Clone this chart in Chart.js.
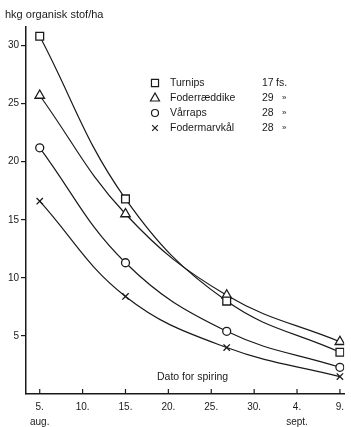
<html>
<head>
<title>Dato for spiring</title>
<style>
  body { margin: 0; background: #fff; }
  #wrap { position: relative; width: 351px; height: 427px; font-family: "Liberation Sans", Arial, sans-serif; color: #1a1a1a; }
  #wrap canvas { position: absolute; left: 0; top: 0; }
  .txt { position: absolute; white-space: nowrap; line-height: 1; }
</style>
</head>
<body>
<div id="wrap">
  <canvas id="chart" width="351" height="427"></canvas>
  <div class="txt" style="left:5px; top:9px; font-size:11px;">hkg organisk stof/ha</div>
  <div id="legend"></div>
  <div class="txt" style="left:157px; top:371px; font-size:10.5px;">Dato for spiring</div>
</div>
<script src="https://cdn.jsdelivr.net/npm/chart.js@4.4.0/dist/chart.umd.min.js"></script>
<script>
    // days counted in august (sept. 9 = aug. 40)
    var days = [5, 15, 26.8, 40];

    var turnips = [30.8, 16.8, 8.0, 3.6];
    var foderraeddike = [25.7, 15.5, 8.5, 4.5];
    var vaarraps = [21.2, 11.3, 5.4, 2.3];
    var fodermarvkaal = [16.6, 8.4, 4.0, 1.5];

    var names = ["Turnips", "Foderræddike", "Vårraps", "Fodermarvkål"];
    var counts = ["17", "29", "28", "28"];
    var units = ["fs.", "»", "»", "»"];
    var styles = ["rect", "triangle", "circle", "crossRot"];
    var radii = [5.5, 5.5, 4, 4.5];

    var xTicks = [5, 10, 15, 20, 25, 30, 35, 40];
    var yTicks = [5, 10, 15, 20, 25, 30];

    var ink = "#1a1a1a";
    var series = [turnips, foderraeddike, vaarraps, fodermarvkaal];

    // legend as html text
    var legendHtml = "";
    for (var i = 0; i < names.length; i++) {
        var rowTop = 77 + i * 15;
        legendHtml += '<div class="txt" style="left:170px; top:' + rowTop + 'px; font-size:10.5px;">' + names[i] + '</div>';
        legendHtml += '<div class="txt" style="left:262px; top:' + rowTop + 'px; font-size:10.5px;">' + counts[i] + '</div>';
        legendHtml += '<div class="txt" style="left:' + (i == 0 ? 276 : 282) + 'px; top:' + (i == 0 ? rowTop : rowTop + 2) + 'px; font-size:' + (i == 0 ? 10.5 : 8) + 'px;">' + units[i] + '</div>';
    }
    document.getElementById("legend").innerHTML = legendHtml;

    var datasets = [];
    for (var s = 0; s < series.length; s++) {
        var pts = [];
        for (var k = 0; k < days.length; k++) {
            pts.push({x: days[k], y: series[s][k]});
        }
        datasets.push({
            label: names[s],
            data: pts,
            borderColor: ink,
            borderWidth: 1.2,
            pointStyle: styles[s],
            pointRadius: radii[s],
            pointBorderWidth: 1.3,
            pointBorderColor: ink,
            pointBackgroundColor: "#fff",
            tension: 0.4,
            fill: false
        });
    }

    function drawMarker(ctx, style, r, x, y) {
        ctx.beginPath();
        if (style == "rect") {
            var h = r * Math.SQRT1_2;
            ctx.rect(x - h, y - h, 2 * h, 2 * h);
        } else if (style == "triangle") {
            ctx.moveTo(x, y - r);
            ctx.lineTo(x - r * 0.9, y + r * 0.6);
            ctx.lineTo(x + r * 0.9, y + r * 0.6);
            ctx.closePath();
        } else if (style == "circle") {
            ctx.arc(x, y, r, 0, Math.PI * 2);
        } else {
            var c = r * Math.SQRT1_2;
            ctx.moveTo(x - c, y - c); ctx.lineTo(x + c, y + c);
            ctx.moveTo(x + c, y - c); ctx.lineTo(x - c, y + c);
        }
        ctx.stroke();
    }

    var extras = {
        id: "extras",
        afterDraw: function(chart) {
            var ctx = chart.ctx;
            var xs = chart.scales.x;
            ctx.save();
            ctx.strokeStyle = ink;
            ctx.lineWidth = 1.2;
            // tick marks pointing into the plot
            xs.ticks.forEach(function(t) {
                var px = xs.getPixelForValue(t.value);
                ctx.beginPath();
                ctx.moveTo(px, chart.chartArea.bottom);
                ctx.lineTo(px, chart.chartArea.bottom - 5);
                ctx.stroke();
            });
            // legend markers
            for (var i = 0; i < styles.length; i++) {
                drawMarker(ctx, styles[i], radii[i] - 0.5, 155, 83 + i * 15);
            }
            ctx.restore();
        }
    };

    new Chart(document.getElementById("chart").getContext("2d"), {
        type: "line",
        data: {datasets: datasets},
        plugins: [extras],
        options: {
            responsive: false,
            animation: false,
            layout: {padding: {top: 27, right: 6, left: 0, bottom: 0}},
            plugins: {legend: {display: false}, tooltip: {enabled: false}},
            scales: {
                x: {
                    type: "linear",
                    min: 3.4,
                    max: 40.5,
                    afterBuildTicks: function(scale) {
                        scale.ticks = xTicks.map(function(v) { return {value: v}; });
                    },
                    afterFit: function(scale) { scale.height = 33; },
                    border: {display: true, color: ink, width: 1.5},
                    grid: {display: true, drawOnChartArea: false, drawTicks: false},
                    ticks: {
                        color: ink,
                        padding: 6,
                        maxRotation: 0,
                        autoSkip: false,
                        font: {family: "Liberation Sans", size: 10, lineHeight: 1.5},
                        callback: function(v) {
                            var lab = v > 31 ? (v - 31) + "." : v + ".";
                            if (v == 5) return [lab, "aug."];
                            if (v == 35) return [lab, "sept."];
                            return lab;
                        }
                    }
                },
                y: {
                    min: 0,
                    max: 31.6,
                    afterBuildTicks: function(scale) {
                        scale.ticks = yTicks.map(function(v) { return {value: v}; });
                    },
                    afterFit: function(scale) { scale.width = 26; },
                    border: {display: true, color: ink, width: 1.5},
                    grid: {display: true, drawOnChartArea: false, drawTicks: true, tickLength: 5, color: ink, lineWidth: 1.2},
                    ticks: {
                        color: ink,
                        padding: 2,
                        autoSkip: false,
                        font: {family: "Liberation Sans", size: 10},
                        callback: function(v) { return v; }
                    }
                }
            }
        }
    });
</script>
</body>
</html>
